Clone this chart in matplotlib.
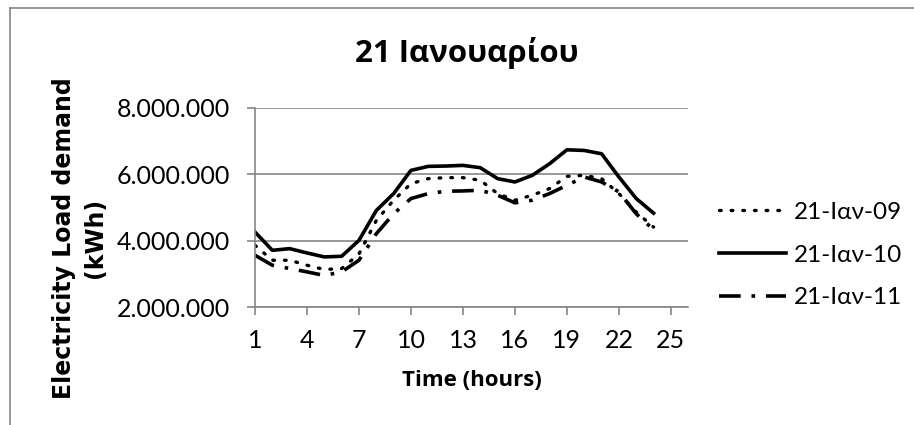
import matplotlib.pyplot as plt
from matplotlib.lines import Line2D
from matplotlib.ticker import FuncFormatter

# hours of the day
hours = list(range(1, 25))

# load demand in kWh
load_09 = [3860000, 3410000, 3410000, 3260000, 3130000, 3160000, 3600000, 4610000,
           5220000, 5720000, 5870000, 5900000, 5900000, 5820000, 5420000, 5220000,
           5370000, 5570000, 5940000, 5970000, 5870000, 5420000, 4860000, 4410000]
load_10 = [4260000, 3710000, 3760000, 3630000, 3510000, 3530000, 4010000, 4910000,
           5420000, 6120000, 6240000, 6250000, 6270000, 6200000, 5870000, 5770000,
           5970000, 6320000, 6740000, 6720000, 6620000, 5920000, 5270000, 4830000]
load_11 = [3560000, 3260000, 3160000, 3060000, 2950000, 3060000, 3410000, 4210000,
           4810000, 5270000, 5420000, 5490000, 5500000, 5520000, 5370000, 5140000,
           5220000, 5420000, 5670000, 5920000, 5770000, 5470000, 4810000, 4330000]

series_names = ['21-Ιαν-09', '21-Ιαν-10', '21-Ιαν-11']
x_ticks = [1, 4, 7, 10, 13, 16, 19, 22, 25]
y_ticks = [2000000, 4000000, 6000000, 8000000]

font = 'Lato'
bold_font = 'Open Sans'
grey = '#868686'

fig = plt.figure(figsize=(9.14, 4.25), dpi=100)
ax = fig.add_axes([0.279, 0.2776, 0.474, 0.4683])

l1, = ax.plot(hours, load_09, color='black', lw=2.4, linestyle=(0, (0.5, 3.0)),
              dash_capstyle='round')
l2, = ax.plot(hours, load_10, color='black', lw=2.6, linestyle='-')
l3, = ax.plot(hours, load_11, color='black', lw=2.6, linestyle=(0, (6, 3, 1, 3)))

ax.set_xlim(1, 26)
ax.set_ylim(2000000, 8000000)
ax.set_xticks(x_ticks)
ax.set_yticks(y_ticks)
ax.yaxis.set_major_formatter(FuncFormatter(lambda v, p: f'{int(v):,}'.replace(',', '.')))

ax.grid(axis='y', color=grey, lw=1.2)
ax.set_axisbelow(True)
for s in ['top', 'right']:
    ax.spines[s].set_visible(False)
for s in ['left', 'bottom']:
    ax.spines[s].set_color(grey)
    ax.spines[s].set_linewidth(1.2)
ax.tick_params(axis='both', direction='out', length=6, width=1.2, color=grey,
               labelsize=18)
ax.tick_params(axis='y', pad=12)
ax.tick_params(axis='x', pad=10)
for lab in ax.get_xticklabels() + ax.get_yticklabels():
    lab.set_fontfamily(font)

fig.text(0.511, 0.875, '21 Ιανουαρίου', ha='center', va='center',
         fontsize=22.5, fontweight='bold', family=bold_font)
fig.text(0.516, 0.105, 'Time (hours)', ha='center', va='center',
         fontsize=16, fontweight='bold', family=bold_font)
fig.text(0.087, 0.44, 'Electricity Load demand\n(kWh)', ha='center', va='center',
         rotation=90, fontsize=17, fontweight='bold', family='DejaVu Sans',
         linespacing=1.4)

leg = fig.legend([l1, l2, l3], series_names, loc='center left',
                 bbox_to_anchor=(0.763, 0.40), frameon=False,
                 prop={'family': font, 'size': 17.5}, handlelength=2.75,
                 handletextpad=0.3, labelspacing=0.9)

# chart area border (left and top edges visible)
fig.add_artist(Line2D([0.0105, 0.0105], [0.0, 0.981], color=grey, lw=1.2))
fig.add_artist(Line2D([0.0105, 1.0], [0.981, 0.981], color=grey, lw=1.2))

fig.savefig('out.png', dpi=100)
